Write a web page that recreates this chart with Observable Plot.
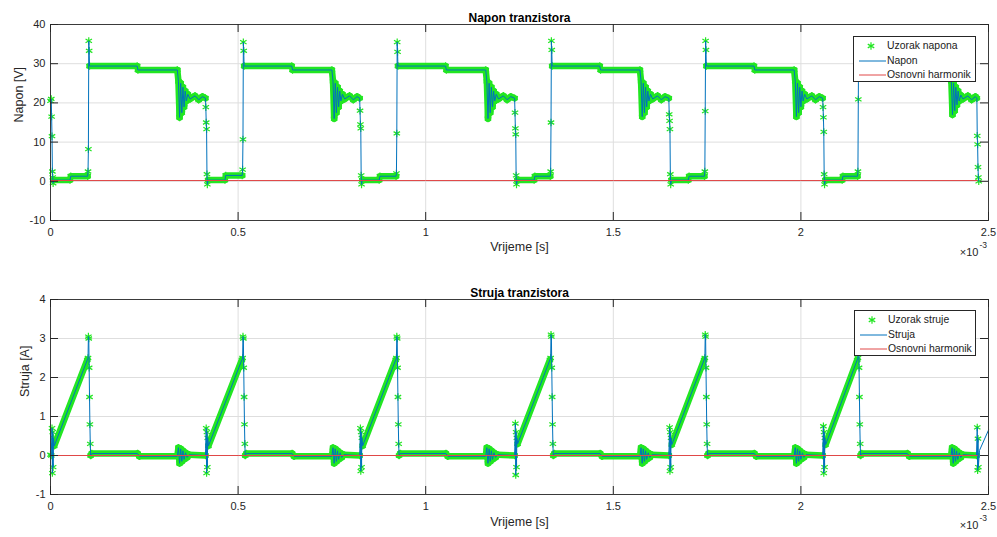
<!DOCTYPE html>
<html><head><meta charset="utf-8">
<script src="https://cdn.jsdelivr.net/npm/d3@7"></script>
<script src="https://cdn.jsdelivr.net/npm/@observablehq/plot@0.6"></script>
<style>
body{margin:0;background:#fff;font-family:"Liberation Sans",Arial,sans-serif;}
#wrap{position:relative;width:997px;height:537px;overflow:hidden}
.legend{position:absolute;background:#fff;border:1px solid #262626;font-size:10.4px;line-height:14px;color:#1a1a1a;box-sizing:border-box}
.legend .sw{position:absolute;left:0;width:32px;height:14px;display:block}
.legend .lab{position:absolute;left:33px;height:14px;white-space:nowrap}
</style></head><body><div id="wrap"></div>
<script>
// ---- time axis (x 10^-3 s) ----
const xTicks = [0, 0.5, 1, 1.5, 2, 2.5];
const napTicks = [-10, 0, 10, 20, 30, 40];
const strTicks = [-1, 0, 1, 2, 3, 4];

// ---- Napon tranzistora: sample instants (ms) and values (V) ----
const napT = [
 0,0.002,0.003,0.004,0.005,0.006,0.007,0.009,
 0.052,0.054,0.099,0.100,0.101,0.102,0.103,0.104,0.231,0.233,0.338,0.341,0.344,0.347,0.350,0.353,0.356,0.359,0.362,0.366,0.372,0.385,0.395,0.405,0.413,0.414,0.415,0.416,0.417,0.418,0.420,
 0.465,0.467,0.511,0.512,0.513,0.514,0.515,0.516,0.643,0.645,0.750,0.753,0.756,0.759,0.762,0.765,0.768,0.771,0.774,0.778,0.784,0.797,0.807,0.817,0.824,0.825,0.826,0.827,0.828,0.829,0.831,
 0.876,0.878,0.921,0.922,0.923,0.924,0.925,0.926,1.053,1.055,1.160,1.163,1.166,1.169,1.172,1.175,1.178,1.181,1.184,1.188,1.194,1.207,1.217,1.227,1.237,1.238,1.239,1.240,1.241,1.242,1.244,
 1.289,1.291,1.332,1.333,1.334,1.335,1.336,1.337,1.464,1.466,1.571,1.574,1.577,1.580,1.583,1.586,1.589,1.592,1.595,1.599,1.605,1.618,1.628,1.638,1.648,1.649,1.650,1.651,1.652,1.653,1.655,
 1.700,1.702,1.743,1.744,1.745,1.746,1.747,1.748,1.875,1.877,1.982,1.985,1.988,1.991,1.994,1.997,2.000,2.003,2.006,2.010,2.016,2.029,2.039,2.049,2.058,2.059,2.060,2.061,2.062,2.063,2.065,
 2.110,2.112,2.151,2.152,2.153,2.154,2.155,2.156,2.283,2.285,2.398,2.401,2.404,2.407,2.410,2.413,2.416,2.419,2.422,2.426,2.432,2.445,2.455,2.465,2.469,2.470,2.471,2.472,2.473,2.474
];
const napV = [
 20.5,21,16.5,11.5,2.5,1,-0.5,0.3,
 0.3,1.3,1.3,2.5,8.2,35.8,33.3,29.4,29.4,28.4,28.4,25.5,16.3,25,17.5,24,19,23,20.5,22.2,21,21.8,20.8,21.6,21.2,18.9,15,13.3,1.8,-0.8,0.3,
 0.3,1.5,1.5,3,10.7,35.5,33.3,29.4,29.4,28.4,28.4,25.5,16,25,17.5,24,19,23,20.5,22.2,21,21.8,20.8,21.6,21.2,18,14.5,13.5,1.5,-0.8,0.3,
 0.3,1.3,1.3,2,12.2,35.5,33,29.4,29.4,28.4,28.4,25.5,16,25,17.5,24,19,23,20.5,22.2,21,21.8,20.8,21.6,21.2,17.5,13.5,12,1.5,-0.8,0.3,
 0.3,1.3,1.3,2.5,15,35.8,33.5,29.4,29.4,28.4,28.4,25.5,16.5,25,17.5,24,19,23,20.5,22.2,21,21.8,20.8,21.6,21.2,17.1,15.4,13.3,1.8,-0.8,0.3,
 0.3,1.3,1.3,2.5,17.9,35.8,33.5,29.4,29.4,28.4,28.4,25.5,16.5,25,17.5,24,19,23,20.5,22.2,21,21.8,20.8,21.6,21.2,18.9,16.3,12.6,1.8,-0.8,0.3,
 0.3,1.3,1.3,2.5,20.9,35.8,33.5,29.4,29.4,28.4,28.4,25.5,17,25,18,24,19.5,23,20.5,22,21,21.8,20.8,21.6,21.2,11.6,9.4,3.6,1,0
];

// ---- Struja tranzistora: sample instants (ms) and values (A) ----
const strT = [
 0,0.002,
 0.004,0.005,0.006,0.007,0.008,0.010,0.098,0.100,0.101,0.102,0.103,0.104,0.105,0.106,0.107,0.110,0.232,0.237,0.338,0.341,0.344,0.347,0.350,0.353,0.356,0.360,0.364,0.370,0.413,
 0.415,0.416,0.417,0.418,0.419,0.421,0.510,0.512,0.513,0.514,0.515,0.516,0.517,0.518,0.519,0.522,0.644,0.649,0.750,0.753,0.756,0.759,0.762,0.765,0.768,0.772,0.776,0.782,0.824,
 0.826,0.827,0.828,0.829,0.830,0.832,0.920,0.922,0.923,0.924,0.925,0.926,0.927,0.928,0.929,0.932,1.054,1.059,1.160,1.163,1.166,1.169,1.172,1.175,1.178,1.182,1.186,1.192,1.237,
 1.239,1.240,1.241,1.242,1.243,1.245,1.331,1.333,1.334,1.335,1.336,1.337,1.338,1.339,1.340,1.343,1.465,1.470,1.571,1.574,1.577,1.580,1.583,1.586,1.589,1.593,1.597,1.603,1.648,
 1.650,1.651,1.652,1.653,1.654,1.656,1.742,1.744,1.745,1.746,1.747,1.748,1.749,1.750,1.751,1.754,1.876,1.881,1.982,1.985,1.988,1.991,1.994,1.997,2.000,2.004,2.008,2.014,2.058,
 2.060,2.061,2.062,2.063,2.064,2.066,2.150,2.152,2.153,2.154,2.155,2.156,2.157,2.158,2.159,2.162,2.284,2.289,2.400,2.403,2.406,2.409,2.412,2.415,2.418,2.422,2.426,2.432,2.468,
 2.470,2.471,2.472,2.473,2.476,2.5
];
const strI = [
 0.02,0,
 0.7,-0.45,0.6,-0.3,0.45,0.25,2.45,2.5,3.05,3.0,2.25,1.5,0.8,0.3,0,0.05,0.05,-0.02,-0.02,0.2,-0.2,0.17,-0.15,0.12,-0.1,0.07,-0.05,0.02,0,
 0.7,-0.45,0.6,-0.3,0.45,0.25,2.45,2.5,3.05,3.0,2.25,1.5,0.8,0.3,0,0.05,0.05,-0.02,-0.02,0.2,-0.2,0.17,-0.15,0.12,-0.1,0.07,-0.05,0.02,0,
 0.7,-0.4,0.6,-0.3,0.45,0.25,2.45,2.5,3.05,3.0,2.25,1.5,0.8,0.3,0,0.05,0.05,-0.02,-0.02,0.2,-0.2,0.17,-0.15,0.12,-0.1,0.07,-0.05,0.02,0,
 0.82,-0.5,0.6,-0.3,0.45,0.3,2.45,2.5,3.1,3.05,2.25,1.5,0.8,0.3,0,0.05,0.05,-0.02,-0.02,0.2,-0.2,0.17,-0.15,0.12,-0.1,0.07,-0.05,0.02,0,
 0.72,-0.4,0.6,-0.3,0.45,0.28,2.45,2.5,3.1,3.05,2.25,1.5,0.8,0.3,0,0.05,0.05,-0.02,-0.02,0.2,-0.2,0.17,-0.15,0.12,-0.1,0.07,-0.05,0.02,0,
 0.75,-0.45,0.6,-0.3,0.45,0.28,2.45,2.5,3.0,2.95,2.25,1.5,0.8,0.3,0,0.05,0.05,-0.02,-0.02,0.2,-0.2,0.17,-0.15,0.12,-0.1,0.07,-0.05,0.02,0,
 0.72,-0.38,0.43,-0.3,0.13,0.65
];
const sampleEnd = 2.474; // last sample instant (markers stop here)

// ---- Osnovni harmonik ----
const harmT = [0, 0.5, 1.0, 1.5, 2.0, 2.47];
const harmNapV = [0.2, 0.2, 0.2, 0.2, 0.2, 0.2];
const harmStrI = [0, 0, 0, 0, 0, 0];

// ---- labels ----
const napLegend = ["Uzorak napona", "Napon", "Osnovni harmonik"];
const strLegend = ["Uzorak struje", "Struja", "Osnovni harmonik"];

const GREEN = "#22e622", BLUE = "#0072bd", RED = "#e04848";
const GRID = "#dedede", AX = "#262626";

function build(tArr, vArr) { return tArr.map((t, i) => ({t, v: vArr[i]})); }
function bands(data) {
  const out = [];
  for (let i = 1; i < data.length; i++) {
    const a = data[i-1], b = data[i];
    if (b.t <= sampleEnd + 1e-9 && b.t - a.t >= 0.0025) out.push({t1: a.t, v1: a.v, t2: b.t, v2: b.v});
  }
  return out;
}

function chart({data, harm, yDomain, yTicks, title, ylabel, height, mt, mb, ylabDx, titleDy, xlabDy, expDy}) {
  const fw = 997 - 50 - 9, fh = height - mt - mb;
  const samples = data.filter(d => d.t <= sampleEnd + 1e-9);
  const svg = Plot.plot({
    width: 997, height, marginLeft: 50, marginRight: 9, marginTop: mt, marginBottom: mb,
    style: {fontFamily: '"Liberation Sans", Arial, sans-serif', color: AX, background: "white", overflow: "visible"},
    x: {domain: [0, 2.5]},
    y: {domain: yDomain},
    marks: [
      Plot.gridX(xTicks, {stroke: GRID, strokeOpacity: 1}),
      Plot.gridY(yTicks, {stroke: GRID, strokeOpacity: 1}),
      Plot.link(bands(data), {x1: "t1", y1: "v1", x2: "t2", y2: "v2", stroke: GREEN, strokeWidth: 6.5, strokeLinecap: "round"}),
      Plot.dot(samples, {x: "t", y: "v", symbol: "asterisk", r: 3.5, stroke: GREEN, strokeWidth: 1.2}),
      Plot.line(data, {x: "t", y: "v", stroke: BLUE, strokeWidth: 1}),
      Plot.line(harm, {x: "t", y: "v", stroke: RED, strokeWidth: 1}),
      Plot.frame({stroke: "#3a3a3a"}),
      Plot.ruleX(xTicks, {insetTop: fh - 8, stroke: AX}),
      Plot.ruleX(xTicks, {insetBottom: fh - 8, stroke: AX}),
      Plot.ruleY(yTicks, {insetRight: fw - 8, stroke: AX}),
      Plot.ruleY(yTicks, {insetLeft: fw - 8, stroke: AX}),
      Plot.axisX({ticks: xTicks, tickSize: 0, tickPadding: 8, fontSize: 11, label: null, tickFormat: d => String(d)}),
      Plot.axisY({ticks: yTicks, tickSize: 0, tickPadding: 5, fontSize: 11, label: null, tickFormat: d => String(d)}),
      Plot.text([title], {text: d => d, frameAnchor: "top", dy: titleDy, fontSize: 12, fontWeight: "bold", fill: "#000"}),
      Plot.text([ylabel], {text: d => d, frameAnchor: "left", dx: ylabDx, rotate: -90, fontSize: 12.5, fill: AX}),
      Plot.text(["Vrijeme [s]"], {text: d => d, frameAnchor: "bottom", dy: xlabDy, fontSize: 12.5, fill: AX}),
      Plot.text(["\u00d710"], {text: d => d, frameAnchor: "bottom-right", dx: -10, dy: expDy, textAnchor: "end", fontSize: 11, fill: AX}),
      Plot.text(["-3"], {text: d => d, frameAnchor: "bottom-right", dx: -9, dy: expDy - 8, textAnchor: "start", fontSize: 8.5, fill: AX})
    ]
  });
  svg.style.display = "block";
  return svg;
}

const wrap = document.getElementById("wrap");
const napData = build(napT, napV);
const strData = build(strT, strI);

wrap.appendChild(chart({
  data: napData, harm: build(harmT, harmNapV), yDomain: [-10, 40], yTicks: napTicks,
  title: "Napon tranzistora", ylabel: "Napon [V]", height: 270, mt: 24, mb: 50,
  ylabDx: -32, titleDy: -11, xlabDy: 30, expDy: 35
}));
wrap.appendChild(chart({
  data: strData, harm: build(harmT, harmStrI), yDomain: [-1, 4], yTicks: strTicks,
  title: "Struja tranzistora", ylabel: "Struja [A]", height: 267, mt: 29, mb: 43,
  ylabDx: -26, titleDy: -11, xlabDy: 31, expDy: 34
}));

function legend(left, top, w, h, labels) {
  const div = document.createElement("div");
  div.className = "legend";
  Object.assign(div.style, {left: left + "px", top: top + "px", width: w + "px", height: h + "px"});
  const star = d3.symbol(d3.symbolAsterisk, Math.PI * 3.5 * 3.5)();
  labels.forEach((lab, i) => {
    const y0 = 2 + i * 14.5;
    const sw = d3.create("svg").attr("class", "sw").attr("width", 32).attr("height", 14).style("top", y0 + "px");
    if (i === 0) sw.append("path").attr("d", star).attr("transform", "translate(17,7)").attr("stroke", GREEN).attr("stroke-width", 1.2).attr("fill", "none");
    else sw.append("line").attr("x1", 5).attr("x2", 32).attr("y1", 7).attr("y2", 7).attr("stroke", i === 1 ? BLUE : RED).attr("stroke-width", 1);
    div.appendChild(sw.node());
    const sp = document.createElement("span");
    sp.className = "lab";
    sp.style.top = y0 + "px";
    sp.textContent = lab;
    div.appendChild(sp);
  });
  wrap.appendChild(div);
}
legend(853, 36, 123, 46, napLegend);
legend(854, 310, 122, 46, strLegend);
</script></body></html>
